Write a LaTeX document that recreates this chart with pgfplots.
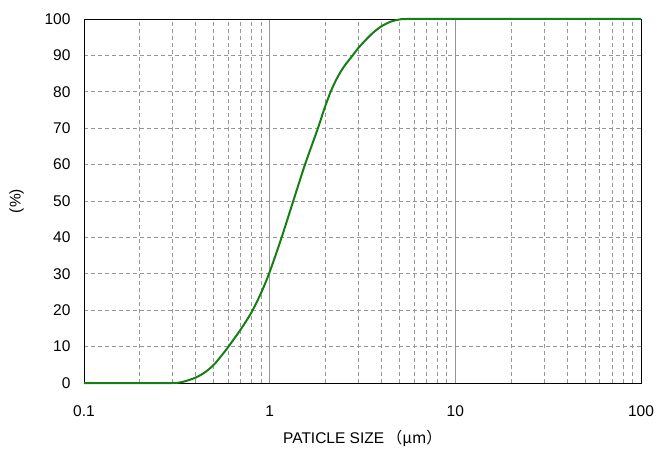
\documentclass[border=0pt]{standalone}
\usepackage{pgfplots}
\pgfplotsset{compat=1.18}
\usepackage{fontspec}
\setmainfont{Liberation Sans}
\newfontfamily\cjk{Noto Sans CJK JP}

\definecolor{curve}{RGB}{20,128,20}
\definecolor{gridc}{RGB}{150,150,150}

\begin{document}
\begin{tikzpicture}
\begin{axis}[
    xmode=log,
    width=557pt, height=364pt,
    scale only axis,
    xmin=0.1, xmax=100,
    ymin=0, ymax=100,
    xtick={0.1,1,10,100},
    xticklabels={0.1,1,10,100},
    ytick={0,10,...,100},
    minor xtick={0.2,0.3,0.4,0.5,0.6,0.7,0.8,0.9,2,3,4,5,6,7,8,9,20,30,40,50,60,70,80,90},
    major tick length=0pt,
    minor tick length=0pt,
    grid=both,
    major x grid style={color=gridc, line width=0.8pt},
    major y grid style={color=gridc, line width=0.8pt, dash pattern=on 4pt off 3pt},
    minor x grid style={color=gridc, line width=0.8pt, dash pattern=on 4pt off 3pt},
    axis line style={black, line width=0.9pt},
    /pgf/number format/assume math mode=true,
    tick label style={font=\fontsize{15.5}{18}\selectfont},
    xticklabel style={yshift=-19pt},
    yticklabel style={xshift=-10pt},
    xlabel={PATICLE SIZE\,{\cjk （μm）}},
    ylabel={(\%)},
    label style={font=\fontsize{15.5}{18}\selectfont},
    xlabel style={yshift=-7pt},
    ylabel style={yshift=14pt},
    clip=false,
]
\addplot[color=curve, line width=2pt, smooth, tension=0.5] coordinates {
    (0.1,0) (0.2,0) (0.3,0) (0.34,0.3) (0.4,1.5) (0.45,3) (0.5,5)
    (0.55,7.5) (0.6,10) (0.7,14.8) (0.8,19.5) (0.9,24.8) (1.0,30.5)
    (1.16,40) (1.34,50) (1.55,60) (1.82,70) (1.96,75) (2.13,80)
    (2.32,84) (2.52,87) (2.8,90) (3.0,92) (3.3,94.3) (3.6,96.2)
    (4.0,98) (4.5,99.3) (5.0,99.85) (5.5,100) (10,100) (100,100)
};
\end{axis}
\pgfresetboundingbox
\path (-84pt,-69pt) rectangle (582pt,383pt);
\end{tikzpicture}
\end{document}
